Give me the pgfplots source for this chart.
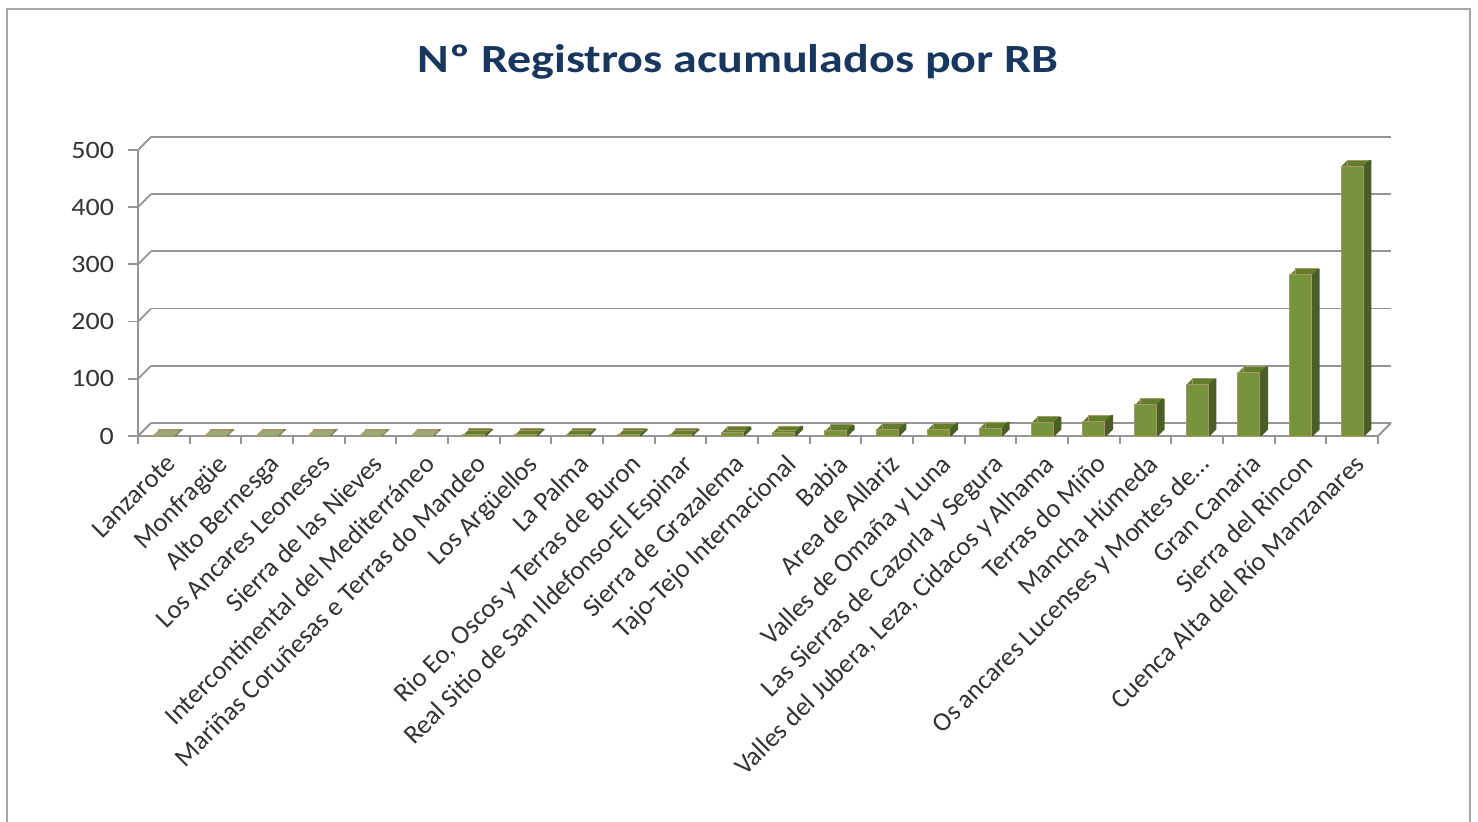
\documentclass[border=0pt]{standalone}
\usepackage{pgfplots}
\pgfplotsset{compat=1.18}
\usepackage{fontspec}
\setmainfont{Carlito}
\newfontfamily\titlefont[FakeStretch=1.2]{Carlito}
\newfontfamily\tickfont[FakeStretch=1.12]{Carlito}
\definecolor{barfront}{HTML}{77933C}
\definecolor{bartop}{HTML}{627E2A}
\definecolor{barside}{HTML}{4A5E26}
\definecolor{baredge}{HTML}{A8976A}
\definecolor{titleblue}{HTML}{17375E}
\definecolor{axgray}{HTML}{959595}
\definecolor{labgray}{HTML}{333333}
\pgfplotstableread{
x v
0 1
1 1
2 1
3 1
4 1
5 1
6 2
7 2
8 2
9 2
10 2
11 6
12 7
13 9
14 11
15 12
16 14
17 23
18 26
19 55
20 90
21 111
22 282
23 472
}\datatable
\begin{document}
\begin{tikzpicture}[x=1pt,y=1pt]
\useasboundingbox (0,0) rectangle (739,411);
\draw[gray!70, line width=1pt] (3.5,-5) -- (3.5,406.5) -- (735,406.5) -- (735,-5);
\node[font=\titlefont\bfseries\fontsize{20}{24}\selectfont, text=titleblue] at (369,380) {Nº Registros acumulados por RB};
\begin{axis}[
  at={(69pt,193pt)}, anchor=south west,
  scale only axis, width=620pt, height=143pt,
  xmin=-0.5, xmax=23.5, ymin=0, ymax=500,
  clip=false,
  axis lines*=left,
  axis line style={axgray, line width=0.9pt},
  ytick={0,100,200,300,400,500},
  ymajorgrids,
  grid style={axgray, line width=0.9pt, xshift=6.5pt, yshift=6.5pt},
  xtick={0,...,23},
  xticklabels={Lanzarote, Monfragüe, Alto Bernesga, Los Ancares Leoneses, Sierra de las Nieves, Intercontinental del Mediterráneo, Mariñas Coruñesas e Terras do Mandeo, Los Argüellos, La Palma, {Rio Eo, Oscos y Terras de Buron}, Real Sitio de San Ildefonso-El Espinar, Sierra de  Grazalema, Tajo-Tejo Internacional, Babia, Area de Allariz, Valles de Omaña y Luna, Las Sierras de Cazorla y Segura, {Valles del Jubera, Leza, Cidacos y Alhama}, Terras do Miño, Mancha Húmeda, {Os ancares Lucenses y Montes de\ldots}, Gran Canaria, Sierra del Rincon, Cuenca Alta del Río Manzanares},
  x tick label style={rotate=45, anchor=north east, font=\fontsize{13.3}{15}\selectfont, text=labgray, inner sep=1pt, yshift=-1.5pt, xshift=-1pt},
  y tick label style={font=\tickfont\fontsize{12.5}{14}\selectfont, text=labgray, xshift=-3.5pt},
  yticklabel style={/pgf/number format/assume math mode=true},
  x tick style={draw=none},
  y tick style={axgray, line width=0.9pt},
  tick align=outside,
  major tick length=5pt,
  extra x ticks={-0.5,0.5,1.5,2.5,3.5,4.5,5.5,6.5,7.5,8.5,9.5,10.5,11.5,12.5,13.5,14.5,15.5,16.5,17.5,18.5,19.5,20.5,21.5,22.5,23.5},
  extra x tick labels={},
  extra x tick style={x tick style={draw=axgray, line width=0.9pt}, grid=none, major tick length=4pt},
]
\pgfplotsinvokeforeach{0.5,1,1.5,2,2.5}{
  \addplot[ybar, bar width=11pt, fill=bartop, draw=none, xshift=#1pt, yshift=#1pt] table[x=x, y=v] {\datatable};
}
\addplot[ybar, bar width=11pt, fill=bartop, draw=baredge, line width=0.45pt, xshift=3pt, yshift=3pt] table[x=x, y=v] {\datatable};
\pgfplotsinvokeforeach{0,0.5,1,1.5,2,2.5,3}{
  \addplot[ybar, bar width=1.2pt, bar shift=6pt, fill=barside, draw=none, xshift=#1pt, yshift=#1pt] table[x=x, y=v] {\datatable};
}
\addplot[ybar, bar width=11pt, fill=barfront, draw=baredge, line width=0.45pt] table[x=x, y=v] {\datatable};
\pgfplotsinvokeforeach{0,100,200,300,400,500}{
  \draw[axgray, line width=0.9pt] (axis cs:-0.5,#1) -- ++(6.5pt,6.5pt);
}
\draw[axgray, line width=0.9pt] (axis cs:23.5,0) -- ++(6.5pt,6.5pt);
\end{axis}
\end{tikzpicture}
\end{document}
